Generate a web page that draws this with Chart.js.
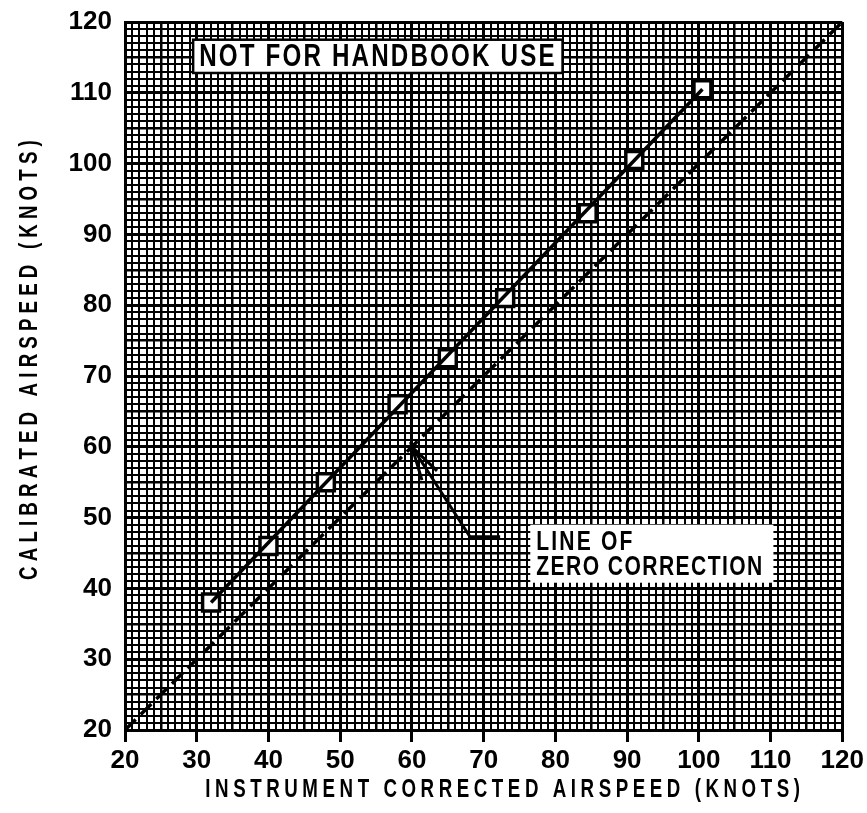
<!DOCTYPE html>
<html>
<head>
<meta charset="utf-8">
<title>Airspeed calibration</title>
<script src="https://cdn.jsdelivr.net/npm/chart.js@4.4.0/dist/chart.umd.min.js"></script>
<style>
  html, body { margin: 0; padding: 0; background: #fff; }
  #wrap { width: 867px; height: 813px; }
</style>
</head>
<body>
<div id="wrap"><canvas id="calib" width="867" height="813"></canvas></div>
<script>
// Airspeed calibration: instrument corrected vs calibrated airspeed (knots)
const testIcas = [32, 40, 48, 58, 65, 73, 84.5, 91, 100.5];
const testCas = [38, 46, 55, 66, 72.5, 81, 93, 100.5, 110.5];

// faired line through the test points
const fairIcas = [32, 100.5];
const fairCas = [38, 110.5];

// line of zero correction (CAS = ICAS)
const zeroIcas = [20, 120];
const zeroCas = [20, 120];

// leader from the note to the zero line, plus its arrowhead
const leaderIcas = [72.3, 68.1, 60];
const leaderCas = [47.3, 47.3, 60];
const arrowIcas = [61.4, 60, 63.5];
const arrowCas = [55.3, 60, 56.6];

const tickLabels = ['20', '30', '40', '50', '60', '70', '80', '90', '100', '110', '120'];

const FONT = "'Liberation Sans', Arial, sans-serif";

const pts = (xs, ys) => xs.map((x, i) => ({ x, y: ys[i] }));

// heavy line every 10 kt, medium every 5, light every 1
function gridWidth(ctx) {
  const v = ctx.tick ? ctx.tick.value : 0;
  if (v % 10 === 0) return 3;
  if (v % 5 === 0) return 2.5;
  return 2;
}

function tickLabel(v) {
  const s = String(v);
  return tickLabels.includes(s) ? s : '';
}

// narrow letters spread out to a given width
function drawSpaced(ctx, text, x0, width, y, squeeze) {
  const chars = [...text];
  const widths = chars.map((c) => ctx.measureText(c).width * squeeze);
  const total = widths.reduce((a, b) => a + b, 0);
  const gap = (width - total) / (chars.length - 1);
  let x = x0;
  chars.forEach((c, i) => {
    ctx.save();
    ctx.translate(x, y);
    ctx.scale(squeeze, 1);
    ctx.fillText(c, 0, 0);
    ctx.restore();
    x += widths[i] + gap;
  });
}

const notes = {
  id: 'notes',
  afterDatasetsDraw(chart) {
    const { ctx } = chart;
    const xs = chart.scales.x, ys = chart.scales.y;
    ctx.save();
    ctx.textAlign = 'left';
    ctx.textBaseline = 'middle';

    // "not for handbook use" stamp
    let l = xs.getPixelForValue(29.5), r = xs.getPixelForValue(81);
    let t = ys.getPixelForValue(117.5), b = ys.getPixelForValue(112.8);
    ctx.fillStyle = '#fff';
    ctx.fillRect(l, t, r - l, b - t);
    ctx.strokeStyle = '#000';
    ctx.lineWidth = 2.5;
    ctx.strokeRect(l, t, r - l, b - t);
    ctx.fillStyle = '#000';
    ctx.font = 'bold 31px ' + FONT;
    drawSpaced(ctx, 'NOT FOR HANDBOOK USE', l + 6, r - l - 14, (t + b) / 2 + 1, 0.78);

    // zero correction note
    l = xs.getPixelForValue(76.5); r = xs.getPixelForValue(110.4);
    t = ys.getPixelForValue(49.0); b = ys.getPixelForValue(40.8);
    ctx.fillStyle = '#fff';
    ctx.fillRect(l, t, r - l, b - t);
    ctx.fillStyle = '#000';
    ctx.font = 'bold 27px ' + FONT;
    drawSpaced(ctx, 'ZERO CORRECTION', l + 6, 226, t + 43, 0.78);
    drawSpaced(ctx, 'LINE OF', l + 6, 96, t + 18, 0.78);
    ctx.restore();
  },
  afterDraw(chart) {
    const { ctx } = chart;
    const xs = chart.scales.x, ys = chart.scales.y;
    ctx.save();
    ctx.fillStyle = '#000';
    ctx.textAlign = 'left';
    ctx.textBaseline = 'middle';
    ctx.font = 'bold 26px ' + FONT;
    const x0 = xs.getPixelForValue(31.2), x1 = xs.getPixelForValue(114.1);
    drawSpaced(ctx, 'INSTRUMENT CORRECTED AIRSPEED (KNOTS)', x0, x1 - x0, 790, 0.72);

    const y0 = ys.getPixelForValue(41.2), y1 = ys.getPixelForValue(103.3);
    ctx.translate(30, y0);
    ctx.rotate(-Math.PI / 2);
    drawSpaced(ctx, 'CALIBRATED AIRSPEED (KNOTS)', 0, y0 - y1, 0, 0.72);
    ctx.restore();
  }
};

const tickFont = { family: FONT, size: 26, weight: 'bold' };

new Chart(document.getElementById('calib'), {
  type: 'scatter',
  data: {
    datasets: [
      {
        data: pts(zeroIcas, zeroCas),
        showLine: true,
        borderColor: '#000',
        borderWidth: 3.5,
        borderDash: [15, 7],
        pointRadius: 0
      },
      {
        data: pts(fairIcas, fairCas),
        showLine: true,
        borderColor: '#000',
        borderWidth: 3.5,
        pointRadius: 0
      },
      {
        data: pts(testIcas, testCas),
        showLine: false,
        pointStyle: 'rect',
        pointRadius: 12,
        pointBorderWidth: 3.5,
        pointBorderColor: '#000',
        pointBackgroundColor: '#fff'
      },
      {
        data: pts(leaderIcas, leaderCas),
        showLine: true,
        borderColor: '#000',
        borderWidth: 3,
        pointRadius: 0
      },
      {
        data: pts(arrowIcas, arrowCas),
        showLine: true,
        borderColor: '#000',
        borderWidth: 3,
        pointRadius: 0
      }
    ]
  },
  options: {
    responsive: false,
    animation: false,
    devicePixelRatio: 1,
    layout: { padding: { top: 22, right: 19, left: 0, bottom: 0 } },
    plugins: { legend: { display: false }, tooltip: { enabled: false } },
    scales: {
      x: {
        type: 'linear',
        min: 20,
        max: 120,
        afterFit(s) { s.height = 83; },
        ticks: {
          stepSize: 1,
          maxTicksLimit: 200,
          autoSkip: false,
          maxRotation: 0,
          minRotation: 0,
          padding: 3,
          color: '#000',
          font: tickFont,
          callback: tickLabel
        },
        grid: {
          color: '#000',
          lineWidth: gridWidth,
          tickLength: 12,
          tickWidth: 3,
          tickColor: (c) => (c.tick && c.tick.value % 10 === 0 ? '#000' : 'rgba(0,0,0,0)')
        },
        border: { display: true, color: '#000', width: 3 }
      },
      y: {
        type: 'linear',
        min: 20,
        max: 120,
        afterFit(s) { s.width = 125; },
        ticks: {
          stepSize: 1,
          maxTicksLimit: 200,
          autoSkip: false,
          padding: 0,
          color: '#000',
          font: tickFont,
          callback: tickLabel
        },
        grid: {
          color: '#000',
          lineWidth: gridWidth,
          tickLength: 13,
          tickColor: 'rgba(0,0,0,0)'
        },
        border: { display: true, color: '#000', width: 3 }
      }
    }
  },
  plugins: [notes]
});
</script>
</body>
</html>
